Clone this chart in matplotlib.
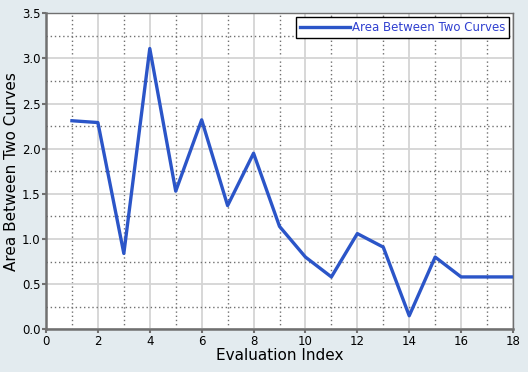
import matplotlib
matplotlib.use("Agg")
import matplotlib.pyplot as plt
from matplotlib.ticker import MultipleLocator

x_vals = list(range(1, 19))
y_vals = [2.31, 2.29, 0.84, 3.11, 1.53, 2.32, 1.37, 1.95, 1.14, 0.80,
          0.58, 1.06, 0.91, 0.15, 0.80, 0.58, 0.58, 0.58]
series_name = "Area Between Two Curves"
x_label = "Evaluation Index"
y_label = "Area Between Two Curves"

bg = "#E3EBEF"
fig = plt.figure(figsize=(5.28, 3.72), dpi=100, facecolor=bg)
ax = fig.add_axes([46/528, 1 - 329.3/372, (513-46)/528, (329.3-13.3)/372])
ax.set_facecolor("white")

ax.plot(x_vals, y_vals, color="#2B55C8", lw=2.4, label=series_name, zorder=3)

ax.set_xlim(0, 18)
ax.set_ylim(0, 3.5)
ax.xaxis.set_major_locator(MultipleLocator(2))
ax.xaxis.set_minor_locator(MultipleLocator(1))
ax.yaxis.set_major_locator(MultipleLocator(0.5))
ax.yaxis.set_minor_locator(MultipleLocator(0.25))
ax.yaxis.set_major_formatter(matplotlib.ticker.FormatStrFormatter("%.1f"))

ax.grid(which="major", color="#D4D4D4", lw=1.3, ls="-", zorder=0)
ax.grid(which="minor", color="#707070", lw=1.0, ls=(0, (1, 2)), zorder=0)
ax.set_axisbelow(True)

for s in ax.spines.values():
    s.set_color("#707070")
    s.set_linewidth(1.0)
ax.spines["left"].set_linewidth(1.8)
ax.spines["bottom"].set_linewidth(1.8)

ax.tick_params(which="major", length=3, width=1.5, color="#707070", labelsize=8.5,
               labelcolor="black", pad=1)
ax.tick_params(which="minor", length=0)

ax.set_xlabel(x_label, fontsize=11, labelpad=0)
ax.set_ylabel(y_label, fontsize=11, labelpad=2)

leg = ax.legend(loc="upper right", fontsize=8.5, frameon=True, fancybox=False,
                edgecolor="black", framealpha=1, borderpad=0.35, handlelength=4.2,
                handletextpad=0.2, borderaxespad=0.3)
leg.get_frame().set_linewidth(1.0)
for t in leg.get_texts():
    t.set_color("#3040D0")

fig.savefig("out.png", dpi=100, facecolor=bg)
